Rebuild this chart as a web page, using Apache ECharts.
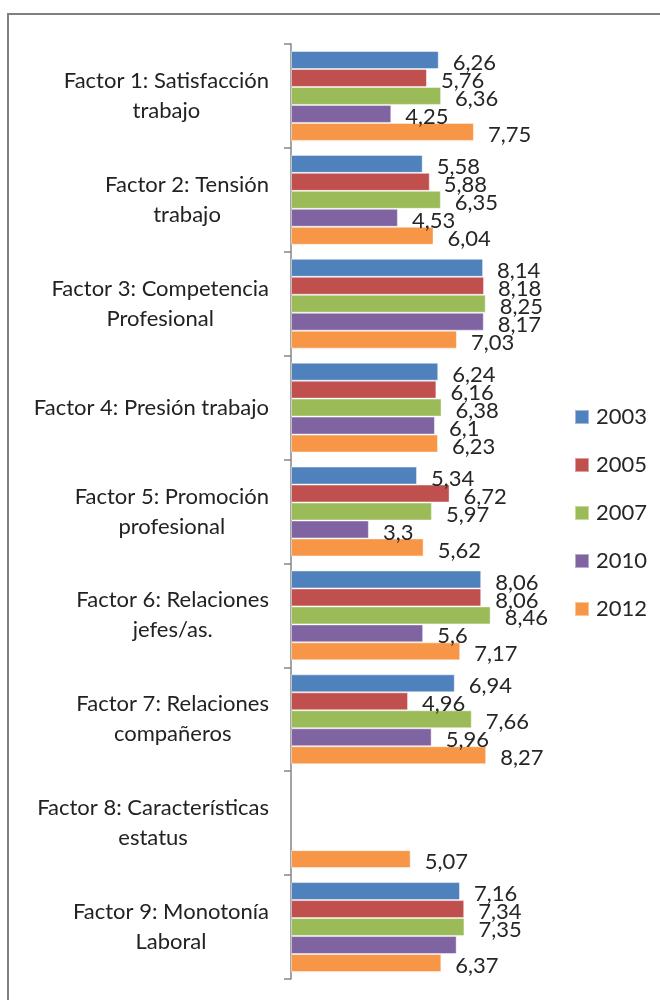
<!DOCTYPE html>
<html>
<head>
<meta charset="utf-8">
<script src="https://cdn.jsdelivr.net/npm/echarts@6/dist/echarts.min.js"></script>
<style>
  html, body { margin: 0; padding: 0; background: #fff; }
  #main { width: 660px; height: 1000px; }
</style>
</head>
<body>
<div id="main"></div>
<script>
var categories = [
    'Factor 1: Satisfacción\ntrabajo',
    'Factor 2: Tensión\ntrabajo',
    'Factor 3: Competencia\nProfesional',
    'Factor 4: Presión trabajo',
    'Factor 5: Promoción\nprofesional',
    'Factor 6: Relaciones\njefes/as.',
    'Factor 7: Relaciones\ncompañeros',
    'Factor 8: Características\nestatus',
    'Factor 9: Monotonía\nLaboral'
];
var years = ['2003', '2005', '2007', '2010', '2012'];
var v2003 = [6.26, 5.58, 8.14, 6.24, 5.34, 8.06, 6.94, null, 7.16];
var v2005 = [5.76, 5.88, 8.18, 6.16, 6.72, 8.06, 4.96, null, 7.34];
var v2007 = [6.36, 6.35, 8.25, 6.38, 5.97, 8.46, 7.66, null, 7.35];
var v2010 = [4.25, 4.53, 8.17, 6.1, 3.3, 5.6, 5.96, null, 7.02];
var v2012 = [7.75, 6.04, 7.03, 6.23, 5.62, 7.17, 8.27, 5.07, 6.37];
var colors = ['#4F81BD', '#C0504D', '#9BBB59', '#8064A2', '#F79646'];

var chart = echarts.init(document.getElementById('main'));
var fontFam = 'Lato, "Noto Sans", sans-serif';

function makeSeries(name, values, idx) {
    var data = values.map(function (v, i) {
        if (v == null) return '-';
        // the 2010 label of factor 9 is not shown in the original
        if (idx == 3 && i == 8) return { value: v, label: { show: false } };
        return v;
    });
    return {
        name: name,
        type: 'bar',
        barGap: '0%',
        barCategoryGap: '13.5%',
        itemStyle: {
            color: colors[idx],
            borderColor: 'rgba(255,255,255,0.45)',
            borderWidth: 1
        },
        label: {
            show: true,
            position: 'right',
            distance: 14,
            offset: [0, 3],
            color: '#262626',
            fontSize: 22,
            fontFamily: fontFam,
            formatter: function (p) {
                return String(p.value).replace('.', ',');
            }
        },
        data: data
    };
}

var option = {
    animation: false,
    color: colors,
    textStyle: { fontFamily: fontFam },
    graphic: [{
        type: 'rect',
        shape: { x: 8, y: 14, width: 700, height: 1020 },
        style: { fill: 'none', stroke: '#808080', lineWidth: 2 },
        silent: true
    }],
    legend: {
        orient: 'vertical',
        left: 569,
        top: 401,
        itemWidth: 14,
        itemHeight: 14,
        itemGap: 26,
        icon: 'rect',
        textStyle: { fontSize: 22, color: '#262626', fontFamily: fontFam, padding: [0, 0, 0, 2] },
        data: years
    },
    grid: {
        left: 291,
        right: 133,
        top: 44,
        bottom: 21
    },
    xAxis: {
        type: 'value',
        min: 0,
        max: 10,
        show: false
    },
    yAxis: {
        type: 'category',
        inverse: true,
        data: categories,
        axisLine: { show: true, lineStyle: { color: '#868686', width: 1.5 } },
        axisTick: { show: true, length: 7, lineStyle: { color: '#868686', width: 1.5 } },
        axisLabel: {
            margin: 22,
            color: '#222',
            fontSize: 22,
            lineHeight: 30,
            fontFamily: fontFam,
            formatter: function (v) {
                return v.split('\n').map(function (s) { return '{c|' + s + '}'; }).join('\n');
            },
            rich: {
                c: { align: 'center', fontSize: 22, lineHeight: 30, color: '#222', fontFamily: fontFam }
            }
        },
        splitLine: { show: false }
    },
    series: [
        makeSeries(years[0], v2003, 0),
        makeSeries(years[1], v2005, 1),
        makeSeries(years[2], v2007, 2),
        makeSeries(years[3], v2010, 3),
        makeSeries(years[4], v2012, 4)
    ]
};
chart.setOption(option);
</script>
</body>
</html>
